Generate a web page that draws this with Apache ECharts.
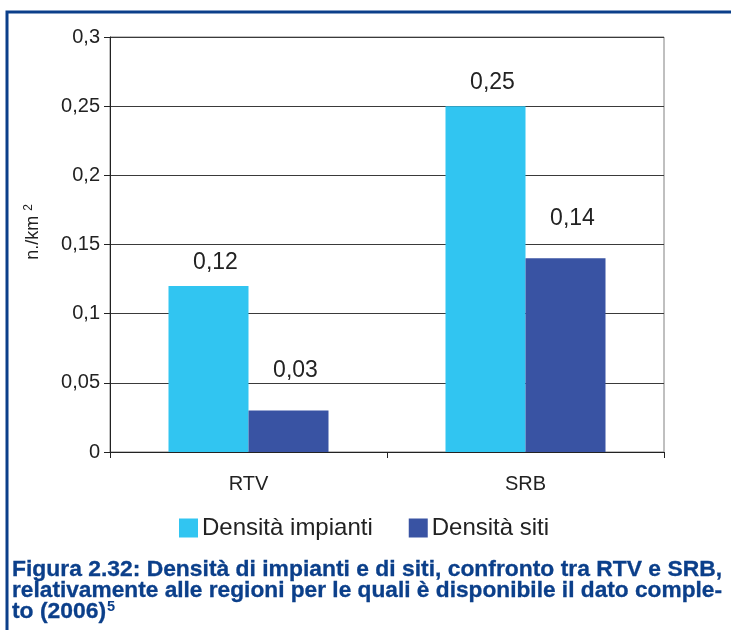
<!DOCTYPE html>
<html>
<head>
<meta charset="utf-8">
<script src="https://cdn.jsdelivr.net/npm/echarts@6/dist/echarts.min.js"></script>
<style>
  html, body { margin: 0; padding: 0; background: #fff; }
  #chart { width: 731px; height: 630px; }
</style>
</head>
<body>
<div id="chart"></div>
<script>
const categories = ['RTV', 'SRB'];
const impianti = [0.12, 0.25];
const siti = [0.03, 0.14];
const seriesNames = ['Densità impianti', 'Densità siti'];
const yTicks = { min: 0, max: 0.3, interval: 0.05 };
const captionLines = [
  'Figura 2.32: Densità di impianti e di siti, confronto tra RTV e SRB,',
  'relativamente alle regioni per le quali è disponibile il dato comple-',
  'to (2006)'
];
const footnote = '5';

const fmt = v => String(parseFloat(v.toFixed(2))).replace('.', ',');
const sans = '"Liberation Sans", Arial, sans-serif';
const frameBlue = '#0b3f8a';

// squeeze the caption font so each full line spans the box width, like the condensed original
const capSize = 22;
const ctx = document.createElement('canvas').getContext('2d');
ctx.font = 'bold ' + capSize + 'px "Liberation Sans"';
const fullWidth = 710;
const sx1 = fullWidth / ctx.measureText(captionLines[0]).width;
const sx2 = fullWidth / ctx.measureText(captionLines[1]).width;

const capText = (text, y, sx) => ({
  type: 'text',
  x: 12,
  y: y,
  scaleX: sx,
  style: {
    text: text,
    fontFamily: '"Liberation Sans", Arial, sans-serif',
    fontWeight: 'bold',
    fontSize: capSize,
    fill: frameBlue,
    stroke: frameBlue,
    lineWidth: 0.3,
    textVerticalAlign: 'bottom'
  }
});

const chart = echarts.init(document.getElementById('chart'));
const option = {
  backgroundColor: '#fff',
  animation: false,
  textStyle: { fontFamily: sans },
  grid: { left: 110, right: 67, top: 37, bottom: 178, show: true, borderColor: '#808080', borderWidth: 1 },
  legend: {
    data: seriesNames,
    top: 511,
    left: 174,
    icon: 'rect',
    itemWidth: 19,
    itemHeight: 19,
    itemGap: 36,
    textStyle: { fontFamily: sans, fontSize: 24, color: '#222', padding: [0, 0, 0, -1] }
  },
  xAxis: {
    type: 'category',
    data: categories,
    axisLine: { lineStyle: { color: '#222', width: 1 } },
    axisTick: { show: true, length: 6, lineStyle: { color: '#222' } },
    axisLabel: { fontSize: 20, color: '#222', margin: 22, fontFamily: sans }
  },
  yAxis: {
    type: 'value',
    min: yTicks.min,
    max: yTicks.max,
    interval: yTicks.interval,
    name: 'n./km {sup|2}',
    nameLocation: 'middle',
    nameRotate: 90,
    nameGap: 66,
    nameTextStyle: {
      fontSize: 18, color: '#222', fontFamily: sans, padding: [0, 0, 0, 25],
      rich: { sup: { fontSize: 12, color: '#222', fontFamily: sans, verticalAlign: 'top', padding: [0, 0, 9, 0] } }
    },
    axisLine: { show: true, lineStyle: { color: '#222', width: 1 } },
    axisTick: { show: true, length: 6, lineStyle: { color: '#222' } },
    axisLabel: { fontSize: 20, color: '#222', margin: 10, fontFamily: sans, formatter: fmt },
    splitLine: { lineStyle: { color: '#3a3a3a', width: 1 } }
  },
  series: [
    {
      name: seriesNames[0],
      type: 'bar',
      data: impianti,
      barWidth: 80,
      barGap: '0%',
      itemStyle: { color: '#31c5f1' },
      label: { show: true, position: 'top', distance: 12, offset: [7, 0], fontSize: 23, color: '#222', fontFamily: sans, formatter: p => fmt(p.value) }
    },
    {
      name: seriesNames[1],
      type: 'bar',
      data: siti,
      barWidth: 80,
      barGap: '0%',
      itemStyle: { color: '#3953a3' },
      label: { show: true, position: 'top', distance: 28, offset: [7, 0], fontSize: 23, color: '#222', fontFamily: sans, formatter: p => fmt(p.value) }
    }
  ],
  graphic: [
    {
      type: 'polyline',
      shape: { points: [[7, 630], [7, 12], [731, 12]] },
      style: { stroke: frameBlue, lineWidth: 3, fill: null }
    },
    capText(captionLines[0], 581, sx1),
    capText(captionLines[1], 602, sx2),
    capText(captionLines[2], 623, sx1),
    {
      type: 'text',
      x: 12 + ctx.measureText(captionLines[2]).width * sx1 + 1,
      y: 614,
      scaleX: sx1,
      style: { text: footnote, fontFamily: '"Liberation Sans", Arial, sans-serif', fontWeight: 'bold', fontSize: 14, fill: frameBlue, textVerticalAlign: 'bottom' }
    }
  ]
};
chart.setOption(option);
</script>
</body>
</html>
